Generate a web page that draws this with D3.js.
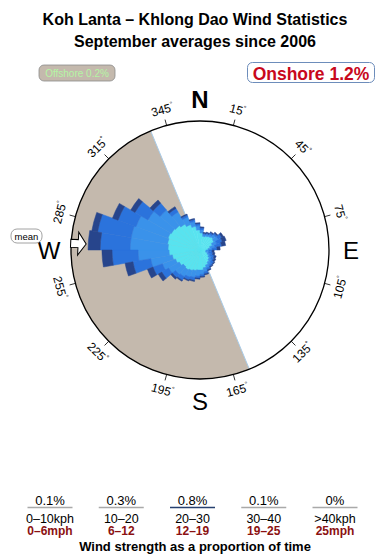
<!DOCTYPE html>
<html>
<head>
<meta charset="utf-8">
<script src="https://cdn.jsdelivr.net/npm/d3@7"></script>
<style>
    body { margin: 0; background: #fff; }
    svg text { font-family: "Liberation Sans", Arial, Helvetica, sans-serif; }
</style>
</head>
<body>
<svg id="rose" width="390" height="560"></svg>
<script>

// direction of each 10 degree sector (start angle, degrees from north)
const directions = d3.range(0, 360, 10);

// share of time per sector, one array per speed band (inner -> outer)
const band0to10 = [0.66, 0.54, 0.58, 0.62, 0.66, 0.62, 0.50, 0.39, 0.31, 0.23, 0.23, 0.31,
                   0.39, 0.47, 0.54, 0.62, 0.70, 0.78, 0.78, 0.81, 0.85, 0.89, 0.85, 0.93,
                   1.01, 1.09, 1.20, 1.24, 1.28, 1.32, 1.28, 1.24, 1.16, 1.05, 0.93, 0.78];
const band10to20 = [0.12, 0.08, 0.08, 0.08, 0.12, 0.19, 0.19, 0.19, 0.16, 0.12, 0.12, 0.12,
                    0.12, 0.12, 0.12, 0.12, 0.16, 0.16, 0.23, 0.27, 0.27, 0.31, 0.39, 0.47,
                    0.54, 0.85, 1.20, 1.47, 1.43, 1.32, 1.05, 0.78, 0.54, 0.31, 0.19, 0.16];
const band20to30 = [0.08, 0.04, 0.04, 0.08, 0.08, 0.16, 0.23, 0.27, 0.19, 0.12, 0.16, 0.16,
                    0.12, 0.12, 0.08, 0.08, 0.08, 0.08, 0.08, 0.12, 0.12, 0.16, 0.16, 0.31,
                    0.39, 0.70, 1.01, 1.16, 1.32, 0.74, 0.58, 0.35, 0.16, 0.08, 0.08, 0.08];
const band30to40 = [0.04, 0.04, 0.04, 0.04, 0.04, 0.08, 0.16, 0.16, 0.12, 0.08, 0.08, 0.08,
                    0.08, 0.04, 0.04, 0.04, 0.04, 0.04, 0.04, 0.04, 0.04, 0.04, 0.08, 0.16,
                    0.23, 0.31, 0.39, 0.47, 0.23, 0.23, 0.19, 0.16, 0.08, 0.04, 0.04, 0.04];

const bandKeys = ["0-10", "10-20", "20-30", "30-40"];
const bandColors = ["#58e3ef", "#3a92ea", "#2b73dc", "#27458c"];

// compass
const degreeTicks = d3.range(15, 360, 30);
const cardinals = ["N", "E", "S", "W"];
const cardinalAngles = [0, 90, 180, 270];

// offshore sector (degrees) and mean direction
const offshoreFrom = 157.5;
const offshoreTo = 337.5;
const meanDirection = 273;
const offshorePct = 0.2;
const onshorePct = 1.2;

// legend
const legendPct = [0.1, 0.3, 0.8, 0.1, 0];
const kphLabels = ["0\u201310kph", "10\u201320", "20\u201330", "30\u201340", ">40kph"];
const mphLabels = ["0\u20136mph", "6\u201312", "12\u201319", "19\u201325", "25mph"];


class WindRose {

    constructor(svg_element_id) {
        this.svg = d3.select('#' + svg_element_id);
        this.width = 390;
        this.height = 560;
        this.cx = 200;
        this.cy = 250;
        this.R = 129;

        this.table = directions.map((d, i) => ({
            dir: d,
            "0-10": band0to10[i],
            "10-20": band10to20[i],
            "20-30": band20to30[i],
            "30-40": band30to40[i]
        }));
    }

    draw() {
        const svg = this.svg;
        const R = this.R;
        const rad = d => d * Math.PI / 180;

        // titles
        svg.append("text")
            .attr("x", 195).attr("y", 25)
            .attr("text-anchor", "middle")
            .style("font-size", "16px").style("font-weight", "bold")
            .text("Koh Lanta \u2013 Khlong Dao Wind Statistics");
        svg.append("text")
            .attr("x", 195).attr("y", 47)
            .attr("text-anchor", "middle")
            .style("font-size", "16px").style("font-weight", "bold")
            .text("September averages since 2006");

        // offshore / onshore boxes
        svg.append("rect")
            .attr("x", 39).attr("y", 65).attr("width", 76).attr("height", 16)
            .attr("rx", 5)
            .attr("fill", "#c4b9ad").attr("stroke", "#8c8c8c").attr("stroke-width", 0.8);
        svg.append("text")
            .attr("x", 77).attr("y", 77)
            .attr("text-anchor", "middle")
            .style("font-size", "10px")
            .attr("fill", "#b4f5a4")
            .text("Offshore " + offshorePct + "%");

        svg.append("rect")
            .attr("x", 247.5).attr("y", 62.5).attr("width", 127).attr("height", 20)
            .attr("rx", 5)
            .attr("fill", "#fff").attr("stroke", "#6d8dbb").attr("stroke-width", 1);
        svg.append("text")
            .attr("x", 311).attr("y", 79.5)
            .attr("text-anchor", "middle")
            .style("font-size", "17.5px")
            .style("font-weight", "bold")
            .attr("fill", "#c8081c")
            .text("Onshore " + onshorePct + "%");

        // compass
        const g = svg.append("g")
            .attr("transform", "translate(" + this.cx + "," + this.cy + ")");

        g.append("circle")
            .attr("r", R)
            .attr("fill", "#fff");

        g.append("path")
            .attr("d", d3.arc()({
                innerRadius: 0, outerRadius: R,
                startAngle: rad(offshoreFrom), endAngle: rad(offshoreTo)
            }))
            .attr("fill", "#c4b9ad");

        g.append("line")
            .attr("x1", R * Math.sin(rad(offshoreFrom)))
            .attr("y1", -R * Math.cos(rad(offshoreFrom)))
            .attr("x2", R * Math.sin(rad(offshoreTo)))
            .attr("y2", -R * Math.cos(rad(offshoreTo)))
            .attr("stroke", "#a8cbe8")
            .attr("stroke-width", 1);

        // rose
        const stacked = d3.stack().keys(bandKeys)(this.table);
        const r = d3.scaleLinear().domain([0, 5]).range([0, R]);
        const arc = d3.arc();
        const step = 10;

        g.selectAll(".band")
            .data(stacked)
            .enter().append("g")
            .attr("class", "band")
            .attr("fill", (d, i) => bandColors[i])
            .attr("stroke", (d, i) => bandColors[i])
            .attr("stroke-width", 0.5)
            .selectAll("path")
            .data(d => d)
            .enter().append("path")
            .attr("d", d => arc({
                innerRadius: r(d[0]),
                outerRadius: r(d[1]),
                startAngle: rad(d.data.dir),
                endAngle: rad(d.data.dir + step)
            }));

        g.append("circle")
            .attr("r", R)
            .attr("fill", "none")
            .attr("stroke", "#000")
            .attr("stroke-width", 1.3);

        // degree ticks + labels
        g.selectAll(".tick")
            .data(degreeTicks)
            .enter().append("line")
            .attr("class", "tick")
            .attr("x1", d => R * Math.sin(rad(d)))
            .attr("y1", d => -R * Math.cos(rad(d)))
            .attr("x2", d => (R + 6) * Math.sin(rad(d)))
            .attr("y2", d => -(R + 6) * Math.cos(rad(d)))
            .attr("stroke", "#000")
            .attr("stroke-width", 0.8);

        let lab = g.selectAll(".deg")
            .data(degreeTicks)
            .enter().append("text")
            .attr("class", "deg")
            .attr("text-anchor", "middle")
            .attr("dominant-baseline", "central")
            .style("font-size", "12px")
            .attr("transform", d => {
                const x = 145 * Math.sin(rad(d)), y = -145 * Math.cos(rad(d));
                const rot = (d > 90 && d < 270) ? d - 180 : d;
                return "translate(" + x + "," + y + ") rotate(" + rot + ")";
            });
        lab.append("tspan").text(d => d);
        lab.append("tspan").attr("dy", -4).style("font-size", "7px").text("\u00b0");

        g.selectAll(".cardinal")
            .data(cardinals)
            .enter().append("text")
            .attr("class", "cardinal")
            .attr("x", (d, i) => 151 * Math.sin(rad(cardinalAngles[i])))
            .attr("y", (d, i) => -151 * Math.cos(rad(cardinalAngles[i])))
            .attr("text-anchor", "middle")
            .attr("dominant-baseline", "central")
            .style("font-size", "24px")
            .style("font-weight", d => d == "N" ? "bold" : "normal")
            .text(d => d);

        // mean direction arrow
        g.append("path")
            .attr("transform", "rotate(" + meanDirection + ")")
            .attr("d", "M-4,-" + (R + 0.5) + " L4,-" + (R + 0.5) + " L4,-122 L11.5,-122 L0,-114 L-11.5,-122 L-4,-122 Z")
            .attr("fill", "#fff")
            .attr("stroke", "#000")
            .attr("stroke-width", 1);

        svg.append("rect")
            .attr("x", 11).attr("y", 229).attr("width", 31).attr("height", 14)
            .attr("rx", 6)
            .attr("fill", "#fff").attr("stroke", "#8a8a8a").attr("stroke-width", 0.8);
        svg.append("text")
            .attr("x", 26.5).attr("y", 239.5)
            .attr("text-anchor", "middle")
            .style("font-size", "9.5px")
            .text("mean");

        // legend
        const lx = d3.scalePoint().domain(d3.range(legendPct.length)).range([50, 335]);
        const maxPct = d3.max(legendPct);

        let leg = svg.selectAll(".legend")
            .data(legendPct)
            .enter().append("g")
            .attr("class", "legend")
            .attr("transform", (d, i) => "translate(" + lx(i) + ",0)");

        leg.append("text")
            .attr("y", 504.5)
            .attr("text-anchor", "middle")
            .style("font-size", "13px")
            .text(d => d + "%");

        leg.append("line")
            .attr("x1", -22.5).attr("x2", 22.5)
            .attr("y1", 507.5).attr("y2", 507.5)
            .attr("stroke", d => d == maxPct ? "#27406f" : "#a9a9a9")
            .attr("stroke-width", 1.6);

        leg.append("text")
            .attr("y", 522.5)
            .attr("text-anchor", "middle")
            .style("font-size", "12.5px")
            .text((d, i) => kphLabels[i]);

        leg.append("text")
            .attr("y", 535)
            .attr("text-anchor", "middle")
            .style("font-size", "12px")
            .style("font-weight", "bold")
            .attr("fill", "#8b1111")
            .text((d, i) => mphLabels[i]);

        svg.append("text")
            .attr("x", 195).attr("y", 550.5)
            .attr("text-anchor", "middle")
            .style("font-size", "13px")
            .style("font-weight", "bold")
            .text("Wind strength as a proportion of time");
    }

}

function whenDocumentLoaded(action) {
    if (document.readyState === "loading") {
        document.addEventListener("DOMContentLoaded", action);
    } else {
        action();
    }
}

whenDocumentLoaded(() => {
    let plot = new WindRose('rose');
    plot.draw();
});
</script>
</body>
</html>
